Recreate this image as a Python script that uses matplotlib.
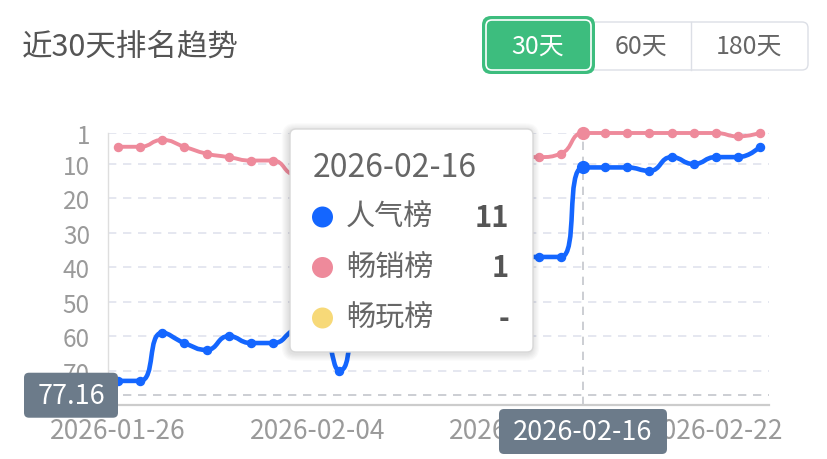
import numpy as np
import pandas as pd
import matplotlib
matplotlib.use("Agg")
import matplotlib.pyplot as plt
from matplotlib.path import Path
from matplotlib.patches import PathPatch, FancyBboxPatch, Circle

plt.rcParams['font.family'] = ['Noto Sans CJK SC', 'DejaVu Sans']

# --- data ---
dates = pd.date_range("2026-01-26", periods=30).strftime("%Y-%m-%d").tolist()
popularity_rank = [73, 73, 59, 62, 64, 60, 62, 62, 58, 56, 70, 49, 45, 43, 41, 40, 39, 38, 37, 37,
                   37, 11, 11, 11, 12, 8, 10, 8, 8, 5]   # 人气榜
sales_rank = [5, 5, 3, 5, 7, 8, 9, 9, 13, 12, 11, 10, 10, 9, 9, 8, 8, 8, 8, 8,
              7, 1, 1, 1, 1, 1, 1, 1, 2, 1]            # 畅销榜
play_rank = [None] * 30                                 # 畅玩榜 (no data)

series_names = ["人气榜", "畅销榜", "畅玩榜"]
series_colors = ["#1466ff", "#ee8a9b", "#f7d978"]
y_ticks = [1, 10, 20, 30, 40, 50, 60, 70]
x_tick_dates = ["2026-01-26", "2026-02-04", "2026-02-13", "2026-02-22"]
periods = ["30天", "60天", "180天"]
hover_date = "2026-02-16"
hover_value = 77.16

W, H = 827, 460


def inch(px, py):
    return px / 100, (H - py) / 100


def smooth_path(ax, xs, ys, smooth=0.5):
    # echarts-like smoothed polyline, computed in display space
    pts = ax.transData.transform(np.column_stack([xs, ys]))
    verts = [pts[0]]
    codes = [Path.MOVETO]
    cp0 = pts[0]
    n = len(pts)
    for i in range(1, n):
        prev, cur = pts[i - 1], pts[i]
        if i == n - 1:
            cp1 = cur
            ncp0 = cur
        else:
            nxt = pts[i + 1]
            v = nxt - prev
            len0 = np.hypot(*(cur - prev))
            len1 = np.hypot(*(nxt - cur))
            ratio = len1 / (len0 + len1)
            ncp0 = cur + v * smooth * ratio
            ncp0 = np.maximum(np.minimum(ncp0, np.maximum(nxt, cur)), np.minimum(nxt, cur))
            v = ncp0 - cur
            cp1 = cur - v * len0 / len1
            cp1 = np.maximum(np.minimum(cp1, np.maximum(prev, cur)), np.minimum(prev, cur))
            v = cur - cp1
            ncp0 = cur + v * len1 / len0
        verts += [cp0, cp1, cur]
        codes += [Path.CURVE4] * 3
        cp0 = ncp0
    verts = ax.transData.inverted().transform(np.array(verts))
    return Path(verts, codes)


fig = plt.figure(figsize=(W / 100, H / 100), dpi=100)
ax = fig.add_axes([108 / W, 1 - 406 / H, (769 - 108) / W, (406 - 134) / H])

x = np.arange(len(dates))
ax.set_xlim(-0.45, len(dates) - 0.6)
ax.set_ylim(80, 1)

ax.set_yticks(y_ticks)
ax.set_yticklabels([str(t) for t in y_ticks])
ax.set_xticks([dates.index(d) for d in x_tick_dates])
ax.set_xticklabels(x_tick_dates)
ax.tick_params(axis='y', length=0, pad=13, labelsize=17.5, labelcolor='#9a9a9a')
ax.tick_params(axis='x', length=0, pad=9, labelsize=19, labelcolor='#9a9a9a')

for t in y_ticks:
    ax.axhline(t, color='#e0e3ed', lw=1.2, ls=(0, (5, 4)), zorder=0)

for s in ['top', 'right']:
    ax.spines[s].set_visible(False)
ax.spines['left'].set_color('#dedede')
ax.spines['left'].set_linewidth(1)
ax.spines['bottom'].set_color('#cccccc')
ax.spines['bottom'].set_linewidth(1.6)

# axis pointer (cross)
hi = dates.index(hover_date)
ax.axvline(hi, color='#c4c6cc', lw=1.2, ls=(0, (5, 4)), zorder=1)
ax.axhline(hover_value, color='#c4c6cc', lw=1.2, ls=(0, (5, 4)), zorder=1)

for vals, color, lw in [(popularity_rank, series_colors[0], 3.3), (sales_rank, series_colors[1], 2.8)]:
    path = smooth_path(ax, x, vals)
    ax.add_patch(PathPatch(path, fill=False, edgecolor=color, lw=lw, zorder=3,
                           capstyle='round', joinstyle='round', clip_on=False))
    ax.plot(x, vals, 'o', ls='none', color=color, ms=5.8, zorder=4, clip_on=False)
    ax.plot([hi], [vals[hi]], 'o', ls='none', color=color, ms=8.5, zorder=5, clip_on=False)

ti = fig.dpi_scale_trans
lab_bg = '#6c7b8a'

# axis pointer labels, placed from the hovered point through the data transform
px_hx, _ = ax.transData.transform((hi, 80))
_, px_hy = ax.transData.transform((0, hover_value))
ax_left_px = ax.transAxes.transform((0, 0))[0]
ax_bottom_px = ax.transAxes.transform((0, 0))[1]
xl_w, xl_h = 1.68, 0.45
xl_x = px_hx / 100 - xl_w / 2
xl_y = ax_bottom_px / 100 - 0.04 - xl_h
fig.patches.append(FancyBboxPatch((xl_x, xl_y), xl_w, xl_h,
                                  boxstyle='round,pad=0,rounding_size=0.05', fc=lab_bg, ec='none',
                                  transform=ti, figure=fig, zorder=20))
fig.text(px_hx / 100, xl_y + xl_h / 2, hover_date, transform=ti, fontsize=19.5, color='white',
         ha='center', va='center', zorder=21)
yl_w, yl_h = 0.94, 0.45
yl_x = ax_left_px / 100 + 0.10 - yl_w
yl_y = px_hy / 100 - yl_h / 2
fig.patches.append(FancyBboxPatch((yl_x, yl_y), yl_w, yl_h,
                                  boxstyle='round,pad=0,rounding_size=0.05', fc=lab_bg, ec='none',
                                  transform=ti, figure=fig, zorder=20))
fig.text(yl_x + yl_w / 2, px_hy / 100, f"{hover_value:.2f}", transform=ti, fontsize=19.5,
         color='white', ha='center', va='center', zorder=21)

# header
fig.text(*inch(22, 47), "近30天排名趋势", transform=ti, fontsize=22, color='#555555',
         ha='left', va='center')

gx0, gy0 = inch(590, 71)
fig.patches.append(FancyBboxPatch((gx0, gy0), (808 - 590) / 100, 0.48,
                                  boxstyle='round,pad=0,rounding_size=0.06', fc='white',
                                  ec='#dcdfe6', lw=1, transform=ti, figure=fig, zorder=2))
fig.add_artist(plt.Line2D([6.91, 6.91], [inch(0, 71)[1], inch(0, 23)[1]], transform=ti,
                          color='#dcdfe6', lw=1, zorder=3))
g0 = inch(482, 75)
fig.patches.append(FancyBboxPatch(g0, 1.13, 0.58, boxstyle='round,pad=0,rounding_size=0.09',
                                  fc='#3dbd7e', ec='none', transform=ti, figure=fig, zorder=4))
g1 = inch(486, 71)
fig.patches.append(FancyBboxPatch(g1, 1.05, 0.50, boxstyle='round,pad=0,rounding_size=0.06',
                                  fc='#3dbd7e', ec='white', lw=1.2, transform=ti, figure=fig,
                                  zorder=5))
for label, cx, col in zip(periods, [538, 641, 749], ['white', '#666666', '#666666']):
    fig.text(*inch(cx, 47), label, transform=ti, fontsize=18, color=col,
             ha='center', va='center', zorder=6)

# tooltip
tx0, ty0 = inch(290, 353)
tw, th = 2.43, 2.23
for k in range(6):
    g = 0.012 * (k + 1)
    fig.patches.append(FancyBboxPatch((tx0 - g - 0.01, ty0 - g - 0.015), tw + 2 * g, th + 2 * g,
                                      boxstyle='round,pad=0,rounding_size=%.3f' % (0.06 + g),
                                      fc='black', ec='none', alpha=0.018, transform=ti,
                                      figure=fig, zorder=8))
fig.patches.append(FancyBboxPatch((tx0, ty0), tw, th, boxstyle='round,pad=0,rounding_size=0.06',
                                  fc='white', ec='#d8d8d8', lw=1, transform=ti, figure=fig,
                                  zorder=9))
fig.text(*inch(313, 168), hover_date, transform=ti, fontsize=23, color='#666666',
         ha='left', va='center', zorder=10)
tip_vals = [popularity_rank[hi], sales_rank[hi], play_rank[hi]]
for row, (name, color, v) in enumerate(zip(series_names, series_colors, tip_vals)):
    ry = 218 + row * 50.5
    fig.patches.append(Circle(inch(322.5, ry), 0.105, fc=color, ec='none', transform=ti,
                              figure=fig, zorder=10))
    fig.text(*inch(346, ry), name, transform=ti, fontsize=21, color='#666666',
             ha='left', va='center', zorder=10)
    fig.text(*inch(509, ry), '-' if v is None else str(v), transform=ti, fontsize=21,
             color='#555555', fontweight='bold', ha='right', va='center', zorder=10)

fig.savefig("out.png", dpi=100, facecolor='white')
